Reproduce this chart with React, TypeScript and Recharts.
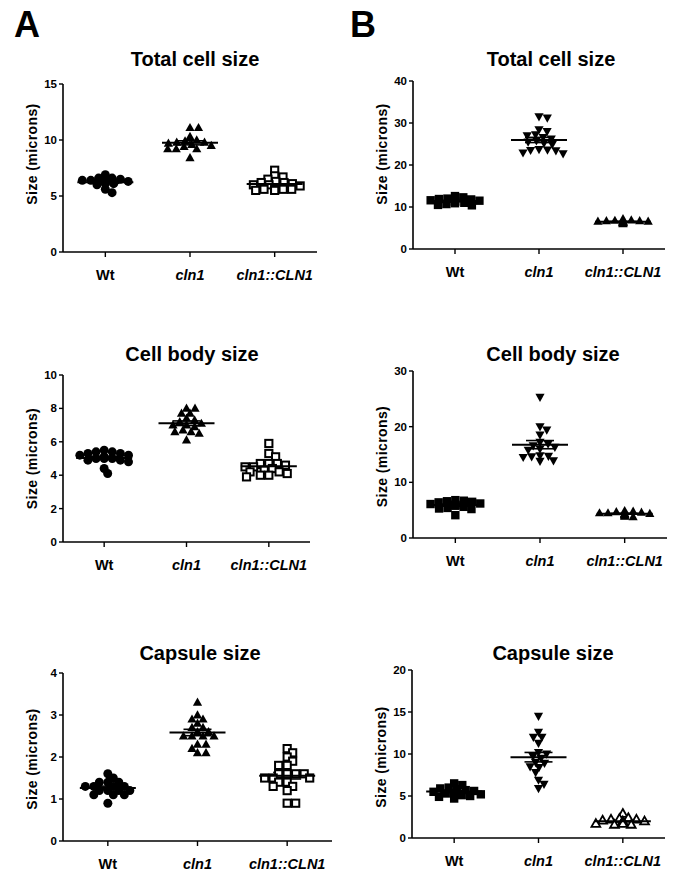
import React from 'react';
import { ScatterChart, Scatter, XAxis, YAxis, ErrorBar } from 'recharts';

// ---------- DATA ----------
const groups = ['Wt', 'cln1', 'cln1::CLN1'];
const titles = ['Total cell size', 'Cell body size', 'Capsule size'];
const panelLetters = ['A', 'B'];

// Column A
const aTotalWt = [6.9, 6.6, 6.6, 6.5, 6.4, 6.4, 6.3, 6.3, 6.2, 6.2, 6.1, 6.1, 6.0, 5.6, 5.3];
const aTotalCln1 = [11.1, 11.1, 10.3, 10.0, 9.9, 9.8, 9.8, 9.7, 9.6, 9.5, 9.4, 9.2, 9.2, 9.2, 8.4];
const aTotalComp = [7.3, 6.8, 6.7, 6.5, 6.3, 6.2, 6.2, 6.1, 6.0, 6.0, 5.9, 5.6, 5.6, 5.6, 5.5, 5.5, 5.6];

const aBodyWt = [5.5, 5.4, 5.4, 5.3, 5.3, 5.2, 5.2, 5.1, 5.1, 5.0, 5.0, 5.0, 4.9, 4.9, 4.8, 4.4, 4.1];
const aBodyCln1 = [8.0, 8.0, 7.7, 7.7, 7.4, 7.3, 7.2, 7.1, 7.0, 7.0, 6.9, 6.7, 6.6, 6.6, 6.5, 6.1];
const aBodyComp = [5.9, 5.3, 5.1, 4.7, 4.7, 4.7, 4.6, 4.5, 4.5, 4.4, 4.3, 4.2, 4.2, 4.1, 4.0, 4.0, 3.9];

const aCapWt = [1.6, 1.5, 1.4, 1.4, 1.4, 1.3, 1.3, 1.3, 1.3, 1.2, 1.2, 1.2, 1.2, 1.1, 1.1, 1.1, 0.9];
const aCapCln1 = [3.3, 3.0, 2.9, 2.9, 2.8, 2.7, 2.7, 2.6, 2.6, 2.5, 2.5, 2.5, 2.5, 2.3, 2.3, 2.2, 2.1, 2.1];
const aCapComp = [2.2, 2.1, 2.0, 1.9, 1.8, 1.8, 1.6, 1.6, 1.6, 1.6, 1.5, 1.5, 1.5, 1.4, 1.4, 1.3, 1.3, 1.2, 0.9, 0.9];

// Column B
const bTotalWt = [12.6, 12.3, 12.0, 11.9, 11.8, 11.6, 11.5, 11.4, 11.3, 11.2, 11.0, 10.9, 10.7, 10.5, 10.4];
const bTotalCln1 = [31.5, 31.2, 28.4, 28.0, 27.2, 27.0, 26.6, 26.2, 25.8, 25.5, 25.2, 24.9, 23.7, 23.6, 23.5, 23.4, 22.9, 22.7];
const bTotalComp = [7.2, 6.9, 6.8, 6.7, 6.7, 6.6, 6.6, 6.5, 6.5, 6.4, 6.4, 6.3, 6.3, 6.2, 6.1, 6.0];

const bBodyWt = [6.8, 6.7, 6.6, 6.5, 6.4, 6.2, 6.1, 6.0, 5.9, 5.8, 5.6, 5.4, 5.3, 5.2, 4.1];
const bBodyCln1 = [25.3, 20.0, 19.4, 18.5, 17.2, 16.9, 16.6, 16.3, 16.0, 15.8, 14.8, 14.7, 14.6, 14.5, 13.8, 13.9];
const bBodyComp = [4.9, 4.8, 4.7, 4.6, 4.5, 4.5, 4.4, 4.4, 4.3, 4.3, 4.2, 4.1, 4.0, 3.9, 3.8];

const bCapWt = [6.5, 6.3, 6.0, 5.9, 5.8, 5.7, 5.6, 5.5, 5.4, 5.3, 5.2, 5.1, 5.0, 4.9, 4.7];
const bCapCln1 = [14.5, 12.6, 12.0, 12.0, 11.3, 10.2, 10.0, 9.7, 9.5, 9.0, 8.9, 8.5, 8.4, 7.8, 6.9, 6.4, 5.9];
const bCapComp = [2.9, 2.4, 2.3, 2.2, 2.2, 2.1, 2.0, 2.0, 1.9, 1.9, 1.8, 1.8, 1.7, 1.7, 1.6, 1.6];

// Y tick labels
const ticksATotal = [0, 5, 10, 15];
const ticksABody = [0, 2, 4, 6, 8, 10];
const ticksACap = [0, 1, 2, 3, 4];
const ticksBTotal = [0, 10, 20, 30, 40];
const ticksBBody = [0, 10, 20, 30];
const ticksBCap = [0, 5, 10, 15, 20];

// ---------- STYLE / LAYOUT ----------
const FONT = '"Liberation Sans", Arial, Helvetica, sans-serif';
const YW = 50; // y-axis area width
const TM = 10; // top margin
const RM = 10; // right margin
const XH = 40; // x-axis height

type PanelDef = {
  col: number;
  row: number;
  series: number[][];
  ticks: number[];
  shapes: string[];
  axisX: number;
  top: number;
  bottom: number;
  right: number;
  titleX: number;
  titleY: number;
  labelDy: number;
};

const panels: PanelDef[] = [
  { col: 0, row: 0, series: [aTotalWt, aTotalCln1, aTotalComp], ticks: ticksATotal, shapes: ['circle', 'triangle', 'squareOpen'], axisX: 63, top: 84, bottom: 252, right: 317, titleX: 195, titleY: 66, labelDy: -14 },
  { col: 1, row: 0, series: [bTotalWt, bTotalCln1, bTotalComp], ticks: ticksBTotal, shapes: ['square', 'triangleDown', 'triangle'], axisX: 413, top: 81, bottom: 249, right: 665, titleX: 551, titleY: 66, labelDy: -11 },
  { col: 0, row: 1, series: [aBodyWt, aBodyCln1, aBodyComp], ticks: ticksABody, shapes: ['circle', 'triangle', 'squareOpen'], axisX: 63, top: 375, bottom: 542, right: 310, titleX: 192, titleY: 361, labelDy: 0 },
  { col: 1, row: 1, series: [bBodyWt, bBodyCln1, bBodyComp], ticks: ticksBBody, shapes: ['square', 'triangleDown', 'triangle'], axisX: 413, top: 371, bottom: 538, right: 667, titleX: 553, titleY: 361, labelDy: 2 },
  { col: 0, row: 2, series: [aCapWt, aCapCln1, aCapComp], ticks: ticksACap, shapes: ['circle', 'triangle', 'squareOpen'], axisX: 63, top: 673, bottom: 841, right: 332, titleX: 200, titleY: 660, labelDy: 2 },
  { col: 1, row: 2, series: [bCapWt, bCapCln1, bCapComp], ticks: ticksBCap, shapes: ['square', 'triangleDown', 'triangleOpen'], axisX: 412, top: 670, bottom: 838, right: 665, titleX: 553, titleY: 660, labelDy: 3 },
];

// ---------- helpers ----------
function mean(v: number[]) {
  return v.reduce((s, x) => s + x, 0) / v.length;
}
function sem(v: number[]) {
  const m = mean(v);
  const sd = Math.sqrt(v.reduce((s, x) => s + (x - m) * (x - m), 0) / (v.length - 1));
  return sd / Math.sqrt(v.length);
}

// beeswarm layout (anisotropic: rows are spread horizontally, GraphPad-like)
function swarm(values: number[], pxPerUnit: number, dx0: number, dy0: number, maxOff: number): number[] {
  const order = values.map((_, i) => i).sort((a, b) => values[b] - values[a]);
  const placed: { x: number; y: number }[] = [];
  const out = new Array(values.length).fill(0);
  const k = dx0 / dy0; // vertical stretch
  for (const i of order) {
    const y = values[i] * pxPerUnit * k;
    const d = dx0;
    const cands = [0];
    for (const p of placed) {
      const dy = Math.abs(p.y - y);
      if (dy < d) {
        const dx = Math.sqrt(d * d - dy * dy);
        cands.push(p.x + dx + 0.01, p.x - dx - 0.01);
      }
    }
    cands.sort((a, b) => Math.abs(a) - Math.abs(b));
    let chosen = 0;
    for (const c of cands) {
      if (Math.abs(c) > maxOff) continue;
      if (placed.every((p) => (p.x - c) * (p.x - c) + (p.y - y) * (p.y - y) >= d * d - 0.05)) {
        chosen = c;
        break;
      }
    }
    placed.push({ x: chosen, y });
    out[i] = chosen;
  }
  return out;
}

const Marker = (props: any) => {
  const { cx, cy, kind } = props;
  if (cx == null || cy == null) return null;
  switch (kind) {
    case 'circle':
      return <circle cx={cx} cy={cy} r={4.5} fill="#000" />;
    case 'square':
      return <rect x={cx - 4.2} y={cy - 4.2} width={8.4} height={8.4} fill="#000" />;
    case 'squareOpen':
      return <rect x={cx - 3.6} y={cy - 3.6} width={7.2} height={7.2} fill="#fff" stroke="#000" strokeWidth={2} />;
    case 'triangle':
      return <path d={`M${cx},${cy - 4.8}L${cx + 4.6},${cy + 3.4}L${cx - 4.6},${cy + 3.4}Z`} fill="#000" />;
    case 'triangleOpen':
      return <path d={`M${cx},${cy - 4.6}L${cx + 4.4},${cy + 3.2}L${cx - 4.4},${cy + 3.2}Z`} fill="#fff" stroke="#000" strokeWidth={1.8} />;
    case 'triangleDown':
      return <path d={`M${cx},${cy + 4.8}L${cx + 4.6},${cy - 3.4}L${cx - 4.6},${cy - 3.4}Z`} fill="#000" />;
    default:
      return null;
  }
};

const MeanLine = (props: any) => {
  const { cx, cy } = props;
  if (cx == null || cy == null) return null;
  return <line x1={cx - 28} x2={cx + 28} y1={cy} y2={cy} stroke="#000" strokeWidth={2} />;
};

const XTick = (props: any) => {
  const { x, y, payload } = props;
  const name = groups[Math.round(payload.value - 0.5)] || '';
  return (
    <text
      x={x}
      y={y + 21}
      textAnchor="middle"
      fontSize={14.5}
      fontWeight="bold"
      fontStyle={name === 'Wt' ? 'normal' : 'italic'}
      fontFamily={FONT}
      fill="#000"
    >
      {name}
    </text>
  );
};

function Panel({ p }: { p: PanelDef }) {
  const plotW = p.right - p.axisX;
  const plotH = p.bottom - p.top;
  const yMax = p.ticks[p.ticks.length - 1];
  const pxPerUnit = plotH / yMax;
  const pxPerX = plotW / 3;
  const width = YW + plotW + RM;
  const height = TM + plotH + XH;

  const seriesData = p.series.map((vals, gi) => {
    const offs = swarm(vals, pxPerUnit, 8.5, 5.5, 27);
    return vals.map((v, i) => ({ x: gi + 0.5 + offs[i] / pxPerX, y: v }));
  });
  const meanData = p.series.map((vals, gi) => ({ x: gi + 0.5, y: mean(vals), err: sem(vals) }));

  const yLabel = (lp: any) => {
    const vb = lp && lp.viewBox ? lp.viewBox : { x: 0, y: TM, width: YW, height: plotH };
    const cx = vb.x + vb.width - 31;
    const cy = vb.y + vb.height / 2 + p.labelDy;
    return (
      <text
        x={cx}
        y={cy}
        transform={`rotate(-90, ${cx}, ${cy})`}
        textAnchor="middle"
        dominantBaseline="central"
        fontSize={14}
        letterSpacing={0.4}
        fontWeight="bold"
        fontFamily={FONT}
        fill="#000"
      >
        Size (microns)
      </text>
    );
  };

  return (
    <div style={{ position: 'absolute', left: p.axisX - YW, top: p.top - TM, width, height }}>
      <ScatterChart width={width} height={height} margin={{ top: TM, right: RM, bottom: 0, left: 0 }}>
        <XAxis
          type="number"
          dataKey="x"
          domain={[0, 3]}
          ticks={[0.5, 1.5, 2.5]}
          interval={0}
          height={XH}
          tick={<XTick />}
          tickSize={5}
          axisLine={{ stroke: '#000', strokeWidth: 1.6 }}
          tickLine={{ stroke: '#000', strokeWidth: 1.4 }}
          allowDataOverflow
        />
        <YAxis
          type="number"
          dataKey="y"
          domain={[0, yMax]}
          ticks={p.ticks}
          interval={0}
          width={YW}
          tickSize={4}
          tickMargin={2}
          tick={{ fontSize: 11.5, fontWeight: 'bold', fill: '#000', fontFamily: FONT }}
          axisLine={{ stroke: '#000', strokeWidth: 1.6 }}
          tickLine={{ stroke: '#000', strokeWidth: 1.4 }}
          label={yLabel}
          allowDataOverflow
        />
        {seriesData.map((d, gi) => (
          <Scatter
            key={gi}
            name={groups[gi]}
            data={d}
            isAnimationActive={false}
            shape={(sp: any) => <Marker {...sp} kind={p.shapes[gi]} />}
          />
        ))}
        <Scatter name="mean" data={meanData} isAnimationActive={false} shape={(sp: any) => <MeanLine {...sp} />}>
          <ErrorBar dataKey="err" direction="y" width={14} stroke="#000" strokeWidth={1.6} isAnimationActive={false} />
        </Scatter>
      </ScatterChart>
    </div>
  );
}

export default function App() {
  return (
    <div style={{ position: 'absolute', left: 0, top: 0, width: 675, height: 875, background: '#fff', overflow: 'hidden' }}>
      {panels.map((p, i) => (
        <Panel key={i} p={p} />
      ))}
      <svg width={675} height={875} style={{ position: 'absolute', left: 0, top: 0, pointerEvents: 'none' }}>
        <text x={14} y={37} fontSize={36} fontWeight="bold" fontFamily={FONT} fill="#000">{panelLetters[0]}</text>
        <text x={350} y={37} fontSize={36} fontWeight="bold" fontFamily={FONT} fill="#000">{panelLetters[1]}</text>
        {panels.map((p, i) => (
          <text key={i} x={p.titleX} y={p.titleY} textAnchor="middle" fontSize={20} fontWeight="bold" fontFamily={FONT} fill="#000">
            {titles[p.row]}
          </text>
        ))}
      </svg>
    </div>
  );
}
